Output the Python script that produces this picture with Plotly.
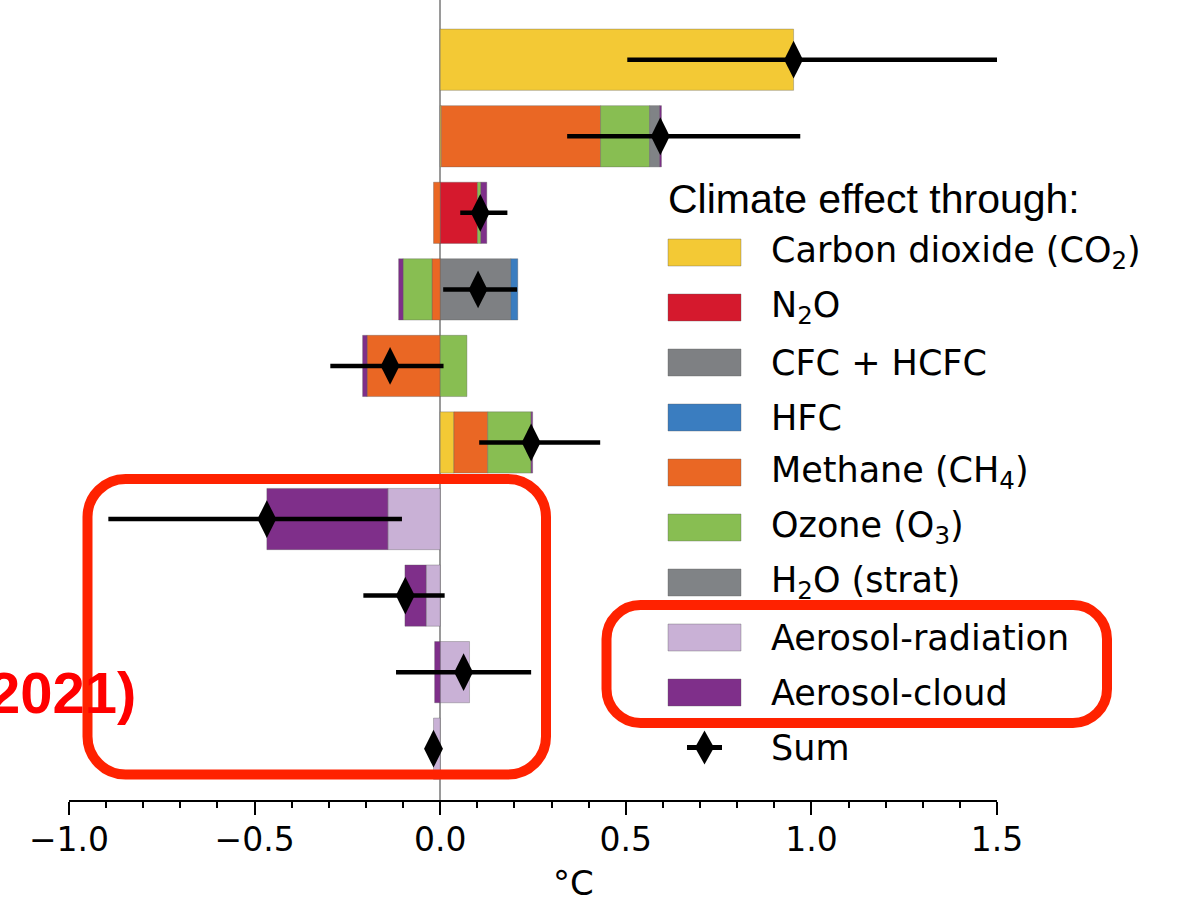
import plotly.graph_objects as go

# ---------------- data ----------------
rows = ["CO2", "CH4", "N2O", "Halocarbons", "NOx", "VOC + CO",
        "SO2", "Organic carbon", "Black carbon", "NH3"]

components = ["Carbon dioxide (CO<sub>2</sub>)", "N<sub>2</sub>O", "CFC + HCFC", "HFC",
              "Methane (CH<sub>4</sub>)", "Ozone (O<sub>3</sub>)", "H<sub>2</sub>O (strat)",
              "Aerosol-radiation", "Aerosol-cloud"]

co2_vals      = [0.952, 0.003, 0.0,    0.0,    0.0,    0.037, 0.0,    0.0,    0.0,    0.0]
n2o_vals      = [0.0,   0.0,   0.1005, 0.0,    0.0,    0.0,   0.0,    0.0,    0.0,    0.0]
cfc_vals      = [0.0,   0.0,   0.0,    0.190,  0.0,    0.0,   0.0,    0.0,    0.0,    0.0]
hfc_vals      = [0.0,   0.0,   0.0,    0.019,  0.0,    0.0,   0.0,    0.0,    0.0,    0.0]
methane_vals  = [0.0,   0.429, -0.018, -0.022, -0.197, 0.091, 0.0,    0.0,    0.0,    0.0]
ozone_vals    = [0.0,   0.132, 0.009,  -0.078, 0.072,  0.117, 0.0,    0.0,    0.0,    0.0]
h2o_vals      = [0.0,   0.027, 0.0,    0.0,    0.0,    0.0,   0.0,    0.0,    0.0,    0.0]
aer_rad_vals  = [0.0,   0.0,   0.0,    0.0,    0.0,    0.0,   -0.141, -0.038, 0.079,  -0.018]
aer_cld_vals  = [0.0,   0.005, 0.016,  -0.012, -0.012, 0.004, -0.326, -0.057, -0.015, 0.0]

sum_vals = [0.952, 0.593, 0.108, 0.102, -0.135, 0.245, -0.467, -0.094, 0.063, -0.018]
sum_low  = [0.504, 0.342, 0.054, 0.008, -0.296, 0.105, -0.894, -0.207, -0.119, -0.018]
sum_high = [1.506, 0.970, 0.181, 0.207, 0.009,  0.431, -0.103, 0.012,  0.245,  -0.018]

x_ticks = [-1.0, -0.5, 0.0, 0.5, 1.0, 1.5]
x_tick_labels = ["\u22121.0", "\u22120.5", "0.0", "0.5", "1.0", "1.5"]

colors = ["#F3C935", "#D5192D", "#7E8083", "#3A7DC0", "#EA6724",
          "#88BE52", "#808386", "#C9B1D6", "#7F2F8A"]

series = [co2_vals, n2o_vals, cfc_vals, hfc_vals, methane_vals,
          ozone_vals, h2o_vals, aer_rad_vals, aer_cld_vals]

# ---------------- figure ----------------
W, H = 1181, 904


def px(x):
    return x / W


def py(y):
    return 1 - y / H


fig = go.Figure()

for name, vals, col in zip(components, series, colors):
    fig.add_trace(go.Bar(
        y=rows, x=[v if v != 0 else None for v in vals], orientation="h",
        name=name, marker=dict(color=col, line=dict(color="rgba(90,90,90,0.35)", width=1)),
        showlegend=False))

fig.add_trace(go.Scatter(
    y=rows, x=sum_vals, mode="markers", name="Sum", showlegend=False,
    marker=dict(symbol="diamond-tall", size=27, color="black", line=dict(width=0)),
    error_x=dict(type="data", symmetric=False,
                 array=[h - s for h, s in zip(sum_high, sum_vals)],
                 arrayminus=[s - l for s, l in zip(sum_vals, sum_low)],
                 thickness=4.5, width=0, color="black")))

fig.update_layout(
    width=W, height=H, barmode="relative", bargap=0.2,
    margin=dict(l=0, r=0, t=0, b=0),
    plot_bgcolor="white", paper_bgcolor="white",
    xaxis=dict(domain=[px(69), px(997)], range=[-1.0, 1.5], automargin=False,
               tickvals=x_ticks, ticktext=x_tick_labels,
               ticks="outside", ticklen=13, tickwidth=2, tickcolor="black",
               ticklabelstandoff=-4,
               minor=dict(dtick=0.1, ticks="outside", ticklen=6, tickwidth=1.5, tickcolor="black", showgrid=False),
               showline=True, linecolor="black", linewidth=2, showgrid=False,
               zeroline=True, zerolinecolor="#9a9a9a", zerolinewidth=1.5,
               tickfont=dict(family="DejaVu Sans", size=33, color="black")),
    yaxis=dict(domain=[py(800), 1], type="category", categoryorder="array", categoryarray=rows,
               range=[9.67, -0.78], automargin=False, showticklabels=False,
               showline=False, showgrid=False, zeroline=False, ticks=""),
)

shapes = []
annots = []

# x axis title
annots.append(dict(x=px(573), y=py(883), xref="paper", yref="paper", text="\u00b0C", showarrow=False,
                   xanchor="center", yanchor="middle", font=dict(family="DejaVu Sans", size=34, color="black")))

# legend (drawn manually to match patch sizes)
annots.append(dict(x=px(666), y=py(199), xref="paper", yref="paper", text="Climate effect through:",
                   showarrow=False, xanchor="left", yanchor="middle",
                   font=dict(family="Liberation Sans, Arial", size=41, color="black")))
leg_y0 = 252.5
leg_dy = 55.0
for i, (name, col) in enumerate(zip(components, colors)):
    yc = leg_y0 + i * leg_dy
    shapes.append(dict(type="rect", xref="paper", yref="paper",
                       x0=px(668), x1=px(741), y0=py(yc + 13.5), y1=py(yc - 13.5),
                       fillcolor=col, line=dict(color="rgba(90,90,90,0.35)", width=1)))
    annots.append(dict(x=px(769), y=py(yc), xref="paper", yref="paper", text=name, showarrow=False,
                       xanchor="left", yanchor="middle", font=dict(family="DejaVu Sans", size=35, color="black")))
# Sum legend entry
yc = leg_y0 + len(components) * leg_dy
shapes.append(dict(type="line", xref="paper", yref="paper", x0=px(687), x1=px(722), y0=py(yc), y1=py(yc),
                   line=dict(color="black", width=5)))
shapes.append(dict(type="path", xref="paper", yref="paper",
                   path=f"M {px(704.5)},{py(yc-17)} L {px(714)},{py(yc)} L {px(704.5)},{py(yc+17)} L {px(695)},{py(yc)} Z",
                   fillcolor="black", line=dict(color="black", width=0)))
annots.append(dict(x=px(769), y=py(yc), xref="paper", yref="paper", text="Sum", showarrow=False,
                   xanchor="left", yanchor="middle", font=dict(family="DejaVu Sans", size=35, color="black")))

# red annotation text (cut at the left edge, as in the reference)
annots.append(dict(x=px(138), y=py(692), xref="paper", yref="paper", text="<b>2021)</b>", showarrow=False,
                   xanchor="right", yanchor="middle",
                   font=dict(family="Liberation Sans, Arial", size=58, color="#FF0000")))


def rounded_rect(x0, y0, x1, y1, r):
    k = 0.5523 * r
    pts = [
        f"M {px(x0 + r)},{py(y0)}",
        f"L {px(x1 - r)},{py(y0)}",
        f"C {px(x1 - r + k)},{py(y0)} {px(x1)},{py(y0 + r - k)} {px(x1)},{py(y0 + r)}",
        f"L {px(x1)},{py(y1 - r)}",
        f"C {px(x1)},{py(y1 - r + k)} {px(x1 - r + k)},{py(y1)} {px(x1 - r)},{py(y1)}",
        f"L {px(x0 + r)},{py(y1)}",
        f"C {px(x0 + r - k)},{py(y1)} {px(x0)},{py(y1 - r + k)} {px(x0)},{py(y1 - r)}",
        f"L {px(x0)},{py(y0 + r)}",
        f"C {px(x0)},{py(y0 + r - k)} {px(x0 + r - k)},{py(y0)} {px(x0 + r)},{py(y0)}",
        "Z",
    ]
    return " ".join(pts)


for (bx0, by0, bx1, by1, rr) in [(87.5, 479, 546, 774.5, 38), (606.5, 605, 1107, 723, 34)]:
    shapes.append(dict(type="path", xref="paper", yref="paper", path=rounded_rect(bx0, by0, bx1, by1, rr),
                       line=dict(color="#FF2200", width=10), fillcolor="rgba(0,0,0,0)", layer="above"))

fig.update_layout(shapes=shapes, annotations=annots)

fig.write_html("out.html")
